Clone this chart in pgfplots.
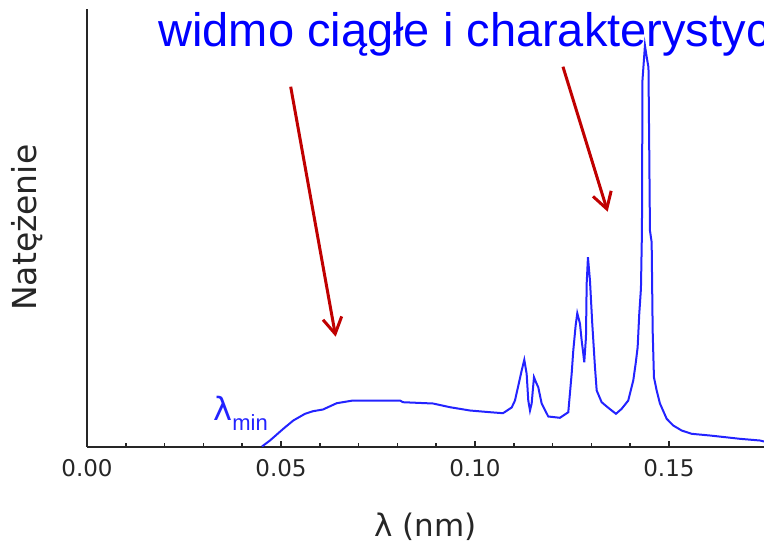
\documentclass[border=0pt]{standalone}
\usepackage{fontspec}
\setmainfont{Liberation Sans}
\newfontfamily\dejavu{DejaVu Sans}
\usepackage{pgfplots}
\pgfplotsset{compat=1.18}
\usetikzlibrary{arrows.meta}
\definecolor{curveblue}{RGB}{35,35,255}
\definecolor{titleblue}{RGB}{0,0,255}
\definecolor{arrowred}{RGB}{192,0,0}
\begin{document}
\begin{tikzpicture}
\useasboundingbox (0,0) rectangle (382pt,271pt);
\begin{axis}[
  at={(43.5pt,47.75pt)}, anchor=south west,
  scale only axis, width=338.5pt, height=218.75pt,
  xmin=0, xmax=0.1745, ymin=0, ymax=437.5,
  axis x line=bottom, axis y line=left,
  axis line style={-, line width=1pt, color=black!85},
  ytick=\empty,
  xtick={0,0.05,0.1,0.15},
  minor x tick num=4,
  scaled x ticks=false,
  tick align=inside,
  major tick length=3pt, minor tick length=2pt,
  tick style={black!85, line width=0.8pt},
  x tick label style={/pgf/number format/fixed, /pgf/number format/fixed zerofill,
    /pgf/number format/precision=2, /pgf/number format/assume math mode=true,
    font=\dejavu\fontsize{11.5}{12}\selectfont, text=black!85, anchor=base, yshift=-15pt},
  xlabel={λ (nm)},
  xlabel style={at={(axis description cs:0.5,-0.184)}, anchor=center,
    font=\dejavu\fontsize{15.5}{16}\selectfont, text=black!85},
  ylabel={Natężenie},
  ylabel style={at={(axis description cs:-0.0886,0.5)}, anchor=center,
    font=\dejavu\fontsize{16.5}{17}\selectfont, text=black!85},
]
\addplot[curveblue, line width=1pt] coordinates {
(0.04510,0) (0.04716,6) (0.05059,17.7) (0.05317,26) (0.05619,32.7) (0.05825,35.3)
(0.06082,37) (0.06436,43.3) (0.06856,46) (0.08067,46) (0.08144,44.3) (0.08918,43)
(0.09356,39.3) (0.09871,36) (0.10387,34.3) (0.10722,33.3) (0.10946,39) (0.11031,46)
(0.11108,59.3) (0.11204,76) (0.11271,86.7) (0.11332,72.7) (0.11374,46) (0.11418,36)
(0.11461,43) (0.11521,69.3) (0.11572,64.3) (0.11631,59.3) (0.11719,43) (0.11889,30)
(0.12191,28.7) (0.12405,34.3) (0.12492,72.7) (0.12534,96) (0.12595,121) (0.12637,133.3)
(0.12706,123) (0.12750,106) (0.12791,93) (0.12817,84.3) (0.12861,109.3) (0.12879,162.7)
(0.12912,189.3) (0.12964,166) (0.13023,123) (0.13093,79.3) (0.13137,56) (0.13265,44.3)
(0.13436,38.7) (0.13634,32.7) (0.13781,37.7) (0.13951,46) (0.14080,66) (0.14142,83)
(0.14193,99.3) (0.14235,133) (0.14278,158) (0.14304,216) (0.14317,366) (0.14381,401)
(0.14420,391) (0.14472,379) (0.14492,296) (0.14510,216) (0.14554,204.3) (0.14580,116)
(0.14613,69.3) (0.14683,56) (0.14768,43) (0.14941,27.7) (0.15111,21) (0.15327,16)
(0.15585,12.7) (0.16057,11) (0.16830,7.7) (0.17345,6) (0.17448,5)
};
\draw[arrowred, line width=1.5pt, -{Straight Barb[length=8pt,width=9.5pt]}]
  (axis cs:0.05250,359.8) -- (axis cs:0.06410,109.8);
\draw[arrowred, line width=1.5pt, -{Straight Barb[length=8pt,width=9.5pt]}]
  (axis cs:0.12268,379.8) -- (axis cs:0.13420,234.8);
\node[anchor=base west, text=curveblue, inner sep=0pt] at (axis cs:0.03247,26.5)
  {{\dejavu\fontsize{16}{16}\selectfont λ}\raisebox{-5pt}{\fontsize{11}{11}\selectfont min}};
\end{axis}
\node[anchor=base west, text=titleblue, inner sep=0pt, font=\fontsize{23.5}{24}\selectfont]
  at (79pt,247.5pt) {widmo ciągłe i charakterystyczne};
\end{tikzpicture}
\end{document}
